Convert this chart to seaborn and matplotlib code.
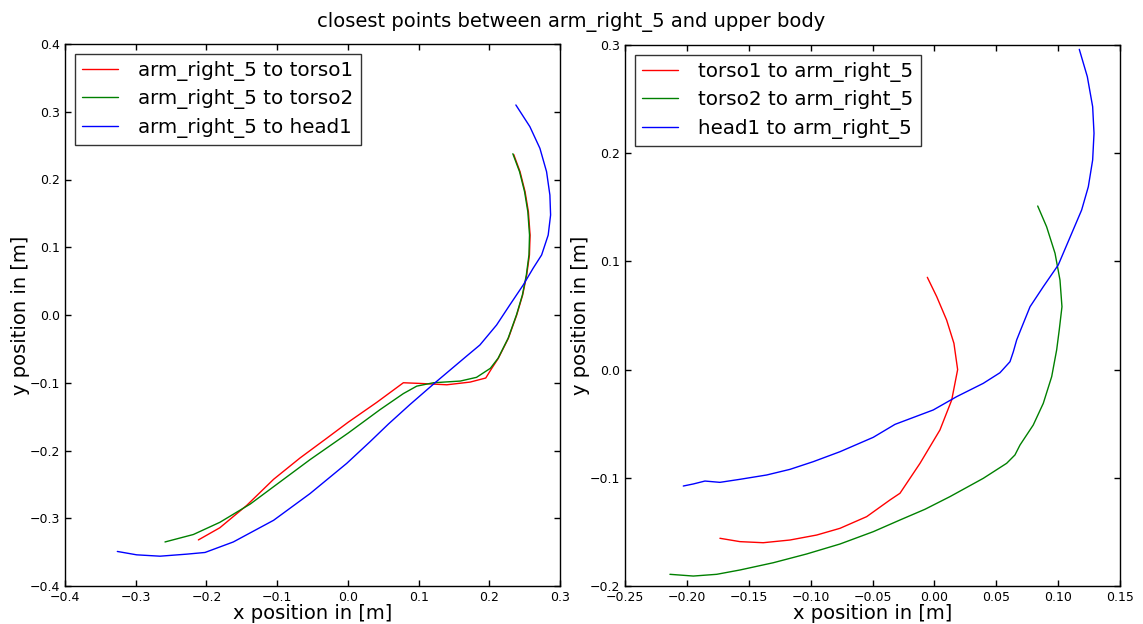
import matplotlib
matplotlib.use("Agg")
import matplotlib.pyplot as plt
import matplotlib.ticker as mticker
import seaborn as sns
import pandas as pd

# Left panel: arm_right_5 to body parts
l_torso1_x = [-0.2114, -0.181, -0.143, -0.105, -0.0676, -0.030, 0.0008, 0.0408, 0.0785, 0.102, 0.140, 0.173, 0.195, 0.2035, 0.2128, 0.227, 0.2388, 0.2472, 0.2529, 0.2568, 0.2577, 0.2553, 0.2506, 0.2435, 0.2345]
l_torso1_y = [-0.332, -0.314, -0.281, -0.2425, -0.211, -0.182, -0.158, -0.129, -0.100, -0.101, -0.103, -0.099, -0.093, -0.0787, -0.0639, -0.0344, 0.0, 0.0295, 0.059, 0.0886, 0.118, 0.1525, 0.182, 0.2115, 0.237]

l_torso2_x = [-0.2586, -0.2185, -0.181, -0.138, -0.1006, -0.0535, 0.0008, 0.0455, 0.0785, 0.0974, 0.121, 0.159, 0.182, 0.2015, 0.2124, 0.2266, 0.2384, 0.2468, 0.2524, 0.2561, 0.2569, 0.2545, 0.2499, 0.2428, 0.2333]
l_torso2_y = [-0.335, -0.324, -0.306, -0.279, -0.250, -0.2135, -0.174, -0.1397, -0.116, -0.105, -0.100, -0.0975, -0.092, -0.0787, -0.0639, -0.0344, 0.0, 0.0295, 0.059, 0.0886, 0.118, 0.1525, 0.182, 0.2115, 0.238]

l_head1_x = [-0.326, -0.2986, -0.2656, -0.228, -0.202, -0.162, -0.105, -0.0535, -0.0016, 0.0314, 0.0573, 0.088, 0.1233, 0.168, 0.1867, 0.2103, 0.229, 0.248, 0.262, 0.274, 0.2833, 0.2867, 0.2857, 0.281, 0.2716, 0.2574, 0.2376]
l_head1_y = [-0.349, -0.354, -0.356, -0.353, -0.3505, -0.335, -0.303, -0.2636, -0.219, -0.187, -0.161, -0.132, -0.100, -0.0606, -0.0443, -0.0148, 0.0148, 0.0443, 0.069, 0.0886, 0.118, 0.1476, 0.177, 0.2115, 0.246, 0.278, 0.310]

# Right panel: body parts to arm_right_5
r_torso1_x = [-0.1733, -0.1571, -0.1383, -0.1167, -0.0951, -0.0763, -0.0547, -0.0359, -0.0278, -0.0116, 0.0045, 0.014, 0.0188, 0.0158, 0.0099, 0.0019, -0.0057]
r_torso1_y = [-0.1559, -0.159, -0.160, -0.1575, -0.1529, -0.1467, -0.1359, -0.1205, -0.1143, -0.0866, -0.0558, -0.0281, 0.0, 0.0243, 0.0458, 0.0674, 0.0853]

r_torso2_x = [-0.2137, -0.1948, -0.1759, -0.1571, -0.1302, -0.1032, -0.0763, -0.0494, -0.0278, -0.0076, 0.0126, 0.0395, 0.0584, 0.0651, 0.0692, 0.0799, 0.088, 0.0948, 0.0988, 0.1009, 0.1031, 0.1015, 0.0975, 0.0907, 0.0835]
r_torso2_y = [-0.1892, -0.1908, -0.1892, -0.1852, -0.1785, -0.1704, -0.1612, -0.1498, -0.139, -0.1291, -0.1174, -0.1005, -0.0866, -0.0789, -0.0697, -0.0512, -0.0312, -0.0065, 0.0181, 0.0366, 0.0581, 0.0828, 0.1075, 0.132, 0.1512]

r_head1_x = [-0.2029, -0.1948, -0.1854, -0.1733, -0.1571, -0.1355, -0.1167, -0.0979, -0.0763, -0.0494, -0.0318, -0.0009, 0.018, 0.0395, 0.053, 0.0611, 0.0638, 0.0665, 0.0697, 0.0773, 0.088, 0.1001, 0.111, 0.119, 0.1244, 0.1279, 0.129, 0.1279, 0.1236, 0.1171]
r_head1_y = [-0.1076, -0.1057, -0.103, -0.1042, -0.1014, -0.0974, -0.0922, -0.0851, -0.0759, -0.0626, -0.0506, -0.0373, -0.025, -0.0127, -0.0029, 0.0073, 0.0165, 0.0274, 0.0366, 0.0581, 0.0766, 0.0967, 0.126, 0.1475, 0.169, 0.1937, 0.2184, 0.243, 0.2707, 0.296]

left_labels = ["arm_right_5 to torso1", "arm_right_5 to torso2", "arm_right_5 to head1"]
right_labels = ["torso1 to arm_right_5", "torso2 to arm_right_5", "head1 to arm_right_5"]
colors = ["red", "green", "blue"]

left_xticks = [-0.4, -0.3, -0.2, -0.1, 0.0, 0.1, 0.2, 0.3]
left_yticks = [-0.4, -0.3, -0.2, -0.1, 0.0, 0.1, 0.2, 0.3, 0.4]
right_xticks = [-0.25, -0.20, -0.15, -0.10, -0.05, 0.00, 0.05, 0.10, 0.15]
right_yticks = [-0.2, -0.1, 0.0, 0.1, 0.2, 0.3]

sns.set_theme(style="white")
plt.rcParams.update({
    "font.family": ["DejaVu Sans"],
    "text.color": "black", "axes.labelcolor": "black",
    "xtick.direction": "in", "ytick.direction": "in",
    "xtick.top": True, "ytick.right": True,
    "xtick.bottom": True, "ytick.left": True,
    "xtick.major.size": 4, "ytick.major.size": 4,
    "xtick.major.width": 1, "ytick.major.width": 1,
    "axes.edgecolor": "black", "axes.linewidth": 1,
    "xtick.color": "black", "ytick.color": "black",
    "xtick.labelsize": 9, "ytick.labelsize": 9,
})

fig = plt.figure(figsize=(11.43, 6.24), dpi=100)
W, H = 1143, 624
ax1 = fig.add_axes([65 / W, 1 - 586 / H, 495 / W, 542 / H])
ax2 = fig.add_axes([625 / W, 1 - 586 / H, 495 / W, 541 / H])


def build(xs, ys, labels):
    frames = []
    for x, y, lab in zip(xs, ys, labels):
        frames.append(pd.DataFrame({"x": x, "y": y, "series": lab}))
    return pd.concat(frames, ignore_index=True)


dl = build([l_torso1_x, l_torso2_x, l_head1_x], [l_torso1_y, l_torso2_y, l_head1_y], left_labels)
dr = build([r_torso1_x, r_torso2_x, r_head1_x], [r_torso1_y, r_torso2_y, r_head1_y], right_labels)

sns.lineplot(data=dl, x="x", y="y", hue="series", palette=dict(zip(left_labels, colors)),
             sort=False, estimator=None, units="series", linewidth=1.0, ax=ax1)
sns.lineplot(data=dr, x="x", y="y", hue="series", palette=dict(zip(right_labels, colors)),
             sort=False, estimator=None, units="series", linewidth=1.0, ax=ax2)

for ax, xt, yt, labs, xdec in [(ax1, left_xticks, left_yticks, left_labels, 1),
                               (ax2, right_xticks, right_yticks, right_labels, 2)]:
    ax.set_xlim(xt[0], xt[-1])
    ax.set_ylim(yt[0], yt[-1])
    ax.set_xticks(xt)
    ax.set_yticks(yt)
    ax.xaxis.set_major_formatter(mticker.FuncFormatter(
        lambda v, p, n=xdec: f"{v:.{n}f}".replace("-", "\u2212")))
    ax.yaxis.set_major_formatter(mticker.FuncFormatter(
        lambda v, p: f"{v:.1f}".replace("-", "\u2212")))
    ax.set_xlabel("x position in [m]", fontsize=14, labelpad=0)
    ax.set_ylabel("y position in [m]", fontsize=14, labelpad=0)
    handles, _ = ax.get_legend_handles_labels()
    leg = ax.legend(handles=handles, labels=labs, loc="upper left", fontsize=14.3,
                    frameon=True, fancybox=False, shadow=False, handlelength=1.8,
                    handletextpad=1.05, borderpad=0.35, labelspacing=0.42,
                    borderaxespad=0.5)
    leg.get_frame().set_edgecolor("black")
    leg.get_frame().set_linewidth(1.0)
    for s in ax.spines.values():
        s.set_visible(True)
        s.set_color("black")

fig.suptitle("closest points between arm_right_5 and upper body", fontsize=14,
             y=1 - 22 / H, va="center")
fig.savefig("out.png", dpi=100)
